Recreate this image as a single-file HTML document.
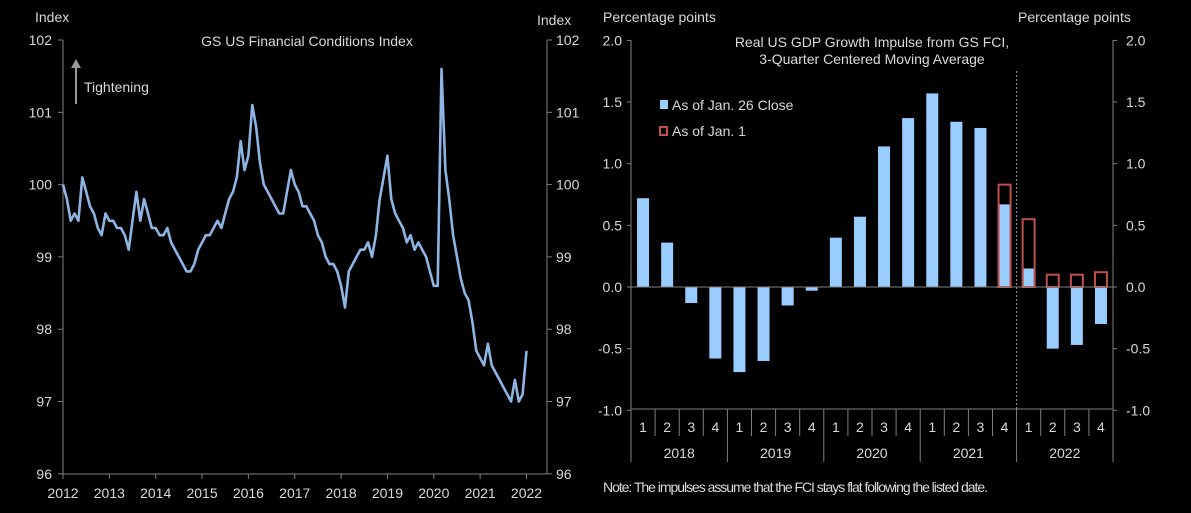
<!DOCTYPE html>
<html><head><meta charset="utf-8"><style>
body{margin:0;background:#000;width:1191px;height:513px;overflow:hidden}
svg{display:block}
text{font-family:"Liberation Sans",sans-serif;fill:#d9d9d9;font-size:14px}
</style></head><body>
<svg id="s" width="1191" height="513"></svg>
<script>
const fciValues=[100.0,99.8,99.5,99.6,99.5,100.1,99.9,99.7,99.6,99.4,99.3,99.6,
99.5,99.5,99.4,99.4,99.3,99.1,99.5,99.9,99.5,99.8,99.6,99.4,
99.4,99.3,99.3,99.4,99.2,99.1,99.0,98.9,98.8,98.8,98.9,99.1,
99.2,99.3,99.3,99.4,99.5,99.4,99.6,99.8,99.9,100.1,100.6,100.2,
100.4,101.1,100.8,100.3,100.0,99.9,99.8,99.7,99.6,99.6,99.9,100.2,
100.0,99.9,99.7,99.7,99.6,99.5,99.3,99.2,99.0,98.9,98.9,98.8,
98.6,98.3,98.8,98.9,99.0,99.1,99.1,99.2,99.0,99.3,99.8,100.1,
100.4,99.8,99.6,99.5,99.4,99.2,99.3,99.1,99.2,99.1,99.0,98.8,
98.6,98.6,101.6,100.2,99.8,99.3,99.0,98.7,98.5,98.4,98.1,97.7,
97.6,97.5,97.8,97.5,97.4,97.3,97.2,97.1,97.0,97.3,97.0,97.1,97.7];
const fciTicks=[96,97,98,99,100,101,102];
const yearLabels=[2012,2013,2014,2015,2016,2017,2018,2019,2020,2021,2022];
const quarters=["1","2","3","4","1","2","3","4","1","2","3","4","1","2","3","4","1","2","3","4"];
const barYears=["2018","2019","2020","2021","2022"];
const impulseClose=[0.72,0.36,-0.13,-0.58,-0.69,-0.60,-0.15,-0.03,0.40,0.57,1.14,1.37,1.57,1.34,1.29,0.67,0.15,-0.50,-0.47,-0.30];
const impulseJan1=[null,null,null,null,null,null,null,null,null,null,null,null,null,null,null,0.83,0.55,0.10,0.10,0.12];
const pctTicks=[-1.0,-0.5,0.0,0.5,1.0,1.5,2.0];

const S=document.getElementById('s');const NS="http://www.w3.org/2000/svg";
function el(t,a,txt){const e=document.createElementNS(NS,t);for(const k in a)e.setAttribute(k,a[k]);if(txt!=null)e.textContent=txt;S.appendChild(e);return e;}
const G="#808080";
const lx=t=>63+(t-2012)*46.35, ly=v=>40+(102-v)*72.3;
let e=el('line',{x1:63,y1:40,x2:63,y2:474,stroke:G});
e=el('line',{x1:547,y1:40,x2:547,y2:474,stroke:G});
e=el('line',{x1:63,y1:474,x2:547,y2:474,stroke:G});
fciTicks.forEach(v=>{const y=ly(v);
el('line',{x1:58,y1:y,x2:63,y2:y,stroke:G});el('line',{x1:547,y1:y,x2:552,y2:y,stroke:G});
e=el('text',{x:52,y:y+5,'text-anchor':'end','font-size':15},v);
e=el('text',{x:556,y:y+5,'font-size':15},v);});
yearLabels.forEach(yr=>{const x=lx(yr);el('line',{x1:x,y1:474,x2:x,y2:479,stroke:G});
e=el('text',{x:x,y:498,'text-anchor':'middle','font-size':15},yr);});
const pts=fciValues.map((v,i)=>lx(2012+i/12).toFixed(1)+","+ly(v).toFixed(1)).join(" ");
e=el('polyline',{points:pts,fill:'none',stroke:'#8db4e2','stroke-width':2.6,'stroke-linejoin':'round'});
e=el('text',{x:35,y:22},'Index');
e=el('text',{x:537,y:25},'Index');
e=el('text',{x:307,y:46,'text-anchor':'middle'},'GS US Financial Conditions Index');
e=el('line',{x1:76,y1:104,x2:76,y2:66,stroke:'#999','stroke-width':2});
el('polygon',{points:'71,68 81,68 76,59',fill:'#999'});
e=el('text',{x:84,y:92},'Tightening');
const X0=631,X1=1113,cw=(X1-X0)/20;const ry=v=>287-v*123.3;
e=el('line',{x1:X0,y1:40,x2:X0,y2:462,stroke:G});
e=el('line',{x1:X1,y1:40,x2:X1,y2:462,stroke:G});
e=el('line',{x1:X0,y1:409,x2:X1,y2:409,stroke:G});
pctTicks.forEach(v=>{const y=ry(v);el('line',{x1:X0-4,y1:y,x2:X0,y2:y,stroke:G});el('line',{x1:X1,y1:y,x2:X1+4,y2:y,stroke:G});
e=el('text',{x:622,y:y+5,'text-anchor':'end','font-size':15},v.toFixed(1));
e=el('text',{x:1126,y:y+5,'font-size':15},v.toFixed(1));});
quarters.forEach((q,i)=>{const x=X0+cw*i;el('line',{x1:x,y1:409,x2:x,y2:(i%4==0)?462:436,stroke:G});
e=el('text',{x:x+cw/2,y:432,'text-anchor':'middle','font-size':13},q);});
barYears.forEach((yr,i)=>{e=el('text',{x:X0+cw*(i*4+2),y:458,'text-anchor':'middle'},yr);});
impulseClose.forEach((v,i)=>{const x=X0+cw*i+cw/2-6;const y=Math.min(ry(v),ry(0));
e=el('rect',{x:x,y:y,width:12,height:Math.abs(ry(v)-ry(0)),fill:'#99ccff'});});
impulseJan1.forEach((v,i)=>{if(v==null)return;const x=X0+cw*i+cw/2-6;
e=el('rect',{x:x,y:ry(v),width:12,height:ry(0)-ry(v),fill:'none',stroke:'#c0504d','stroke-width':2});});
e=el('line',{x1:631,y1:287,x2:X1,y2:287,stroke:G});
e=el('line',{x1:X0+cw*16,y1:71,x2:X0+cw*16,y2:409,stroke:'#999','stroke-dasharray':'2,2'});
e=el('text',{x:603,y:22},'Percentage points');
e=el('text',{x:1018,y:22},'Percentage points');
e=el('text',{x:872,y:47,'text-anchor':'middle'},'Real US GDP Growth Impulse from GS FCI,');
e=el('text',{x:872,y:64,'text-anchor':'middle'},'3-Quarter Centered Moving Average');
e=el('rect',{x:660,y:100,width:8,height:9,fill:'#99ccff'});
e=el('text',{x:672,y:110},'As of Jan. 26 Close');
e=el('rect',{x:660,y:127,width:7,height:8,fill:'none',stroke:'#c0504d','stroke-width':2});
e=el('text',{x:672,y:136},'As of Jan. 1');
e=el('text',{x:603,y:492,'font-size':10,'textLength':385},'Note: The  impulses assume that the FCI stays flat following the listed date.');
</script>
</body></html>
